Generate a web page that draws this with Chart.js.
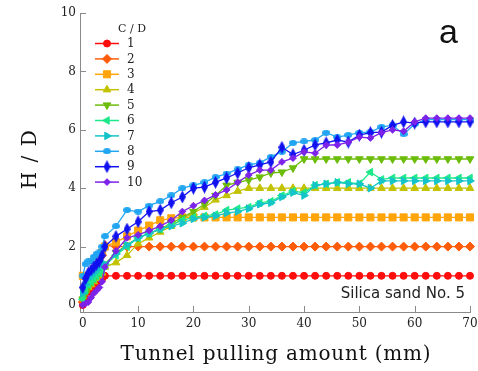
<!DOCTYPE html>
<html><head><meta charset="utf-8">
<script src="https://cdn.jsdelivr.net/npm/chart.js@4/dist/chart.umd.min.js"></script>
<style>html,body{margin:0;padding:0;background:#fff}#wrap{width:478px;height:371px}</style>
</head><body><div id="wrap"><canvas id="c" width="478" height="371"></canvas></div>
<script>
// ---- data ----
const pulling = [0,0.5,1,1.5,2,2.5,3,3.5,4,6,8,10,12,14,16,18,20,22,24,26,28,30,32,34,36,38,40,42,44,46,48,50,52,54,56,58,60,62,64,66,68,70];
const hd1 = [0,0.2,0.45,0.55,0.65,0.75,0.8,0.9, 1,1,1,1,1,1,1,1,1,1,1,1,1,1,1,1,1,1,1,1,1,1,1,1,1,1,1,1,1,1,1,1,1,1];
const hd2 = [0.1,0.6,0.8,1.0,1.1,1.3,1.4,1.7, 2.05,2,2,2,2,2,2,2,2,2,2,2,2,2,2,2,2,2,2,2,2,2,2,2,2,2,2,2,2,2,2,2,2,2];
const hd3 = [1.0,0.6,0.7,0.9,1.1,1.3,1.5,1.8, 2.0,2.15,2.35,2.55,2.72,2.9,2.97,3.0,3,3,3,3,3,3,3,3,3,3,3,3,3,3,3,3,3,3,3,3,3,3,3,3,3,3];
const hd4 = [0.3,0.5,0.6,0.7,0.8,0.9,1.0,1.1, 1.3,1.45,1.7,2.1,2.3,2.5,2.7,2.95,3.15,3.35,3.6,3.75,3.9,4.0,4,4,4,4,4,4,4,4,4,4,4,4,4,4,4,4,4,4,4,4];
const hd5 = [0.2,0.4,0.6,0.8,0.9,1.0,1.1,1.2, 1.4,1.8,2.05,2.3,2.45,2.6,2.8,3.0,3.2,3.45,3.75,4.1,4.2,4.28,4.38,4.52,4.55,4.69,5,5,5,5,5,5,5,5,5,5,5,5,5,5,5,5];
const hd6 = [0.2,0.5,0.7,0.8,0.9,1.0,1.1,1.2, 1.35,1.7,2.0,2.3,2.45,2.6,2.75,2.9,3.0,3.05,3.1,3.25,3.3,3.35,3.5,3.55,3.75,3.9,3.85,4.1,4.15,4.2,4.2,4.15,4.55,4.3,4.35,4.35,4.35,4.35,4.35,4.35,4.35,4.35];
const hd7 = [0.4,0.7,0.9,1.0,1.1,1.2,1.3,1.35, 1.4,1.75,2.05,2.3,2.45,2.6,2.7,2.8,2.95,3.0,3.05,3.15,3.2,3.3,3.45,3.5,3.7,3.85,3.75,4.1,4.15,4.2,4.15,4.15,4.0,4.25,4.25,4.25,4.25,4.25,4.25,4.25,4.25,4.25];
const hd8 = [1.0,1.4,1.5,1.5,1.65,1.75,1.8,2.0, 2.35,2.7,3.25,3.2,3.4,3.55,3.75,4.0,4.1,4.2,4.38,4.5,4.65,4.8,4.87,5.07,5.25,5.55,5.6,5.65,5.9,5.75,5.82,5.9,5.92,6.1,6.15,5.85,6.2,6.35,6.35,6.35,6.35,6.35];
const hd9 = [0.6,0.9,1.1,1.2,1.3,1.4,1.5,1.7, 2.0,2.35,2.6,2.85,3.2,3.25,3.5,3.7,4.0,4.04,4.2,4.35,4.52,4.7,4.8,4.9,5.4,5.15,5.3,5.48,5.55,5.65,5.58,5.82,5.9,5.92,6.15,6.27,6.23,6.27,6.27,6.27,6.27,6.27];
const hd10 = [0,0.05,0.1,0.25,0.4,0.5,0.6,0.8, 1.3,1.85,2.3,2.4,2.55,2.7,2.9,3.2,3.4,3.58,3.77,3.94,4.2,4.45,4.62,4.62,4.9,5.03,5.24,5.2,5.48,5.48,5.58,5.75,5.72,5.9,6.0,5.95,6.27,6.4,6.4,6.4,6.4,6.4];
const seriesLabels = ['1','2','3','4','5','6','7','8','9','10'];
const xTicks = [0,10,20,30,40,50,60,70];
const yTicks = [0,2,4,6,8,10];
const xTitle = 'Tunnel pulling amount (mm)';
const yTitle = 'H / D';
const legendTitle = 'C / D';
const panelLabel = 'a';
const noteText = 'Silica sand No. 5';

// ---- styles ----
function tallDiamond(color, w, h){
  const c = document.createElement('canvas'); c.width = w; c.height = h;
  const g = c.getContext('2d'); g.fillStyle = color;
  g.beginPath(); g.moveTo(w/2,0); g.lineTo(w,h/2); g.lineTo(w/2,h); g.lineTo(0,h/2); g.closePath(); g.fill();
  return c;
}
function ellipseImg(color, w, h){
  const c = document.createElement('canvas'); c.width = w; c.height = h;
  const g = c.getContext('2d'); g.fillStyle = color;
  g.beginPath(); g.ellipse(w/2,h/2,w/2,h/2,0,0,Math.PI*2); g.fill();
  return c;
}
const colors = ['#ff0d0d','#ff5c0a','#ffa50a','#c2c200','#6cbc0a','#1ee88a','#14c4c8','#22a6f2','#1010f0','#7d22e8'];
const styles = [
  {ps:'circle', r:3.5, rot:0},
  {ps:'rectRot', r:4.5, rot:0},
  {ps:'rect', r:5.0, rot:0},
  {ps:'triangle', r:4.4, rot:0},
  {ps:'triangle', r:4.4, rot:180},
  {ps:'triangle', r:4.4, rot:-90},
  {ps:'triangle', r:4.4, rot:90},
  {ps:ellipseImg(colors[7],8,6), r:3, rot:0},
  {ps:tallDiamond(colors[8],7,13), r:4, rot:0},
  {ps:'rectRot', r:3.4, rot:0}
];
const allY = [hd1,hd2,hd3,hd4,hd5,hd6,hd7,hd8,hd9,hd10];

const datasets = allY.map((arr,i)=>({
  label: seriesLabels[i],
  data: arr.map((v,j)=>({x:pulling[j], y:v})),
  borderColor: colors[i],
  backgroundColor: colors[i],
  borderWidth: 1.3,
  pointStyle: styles[i].ps,
  pointRadius: styles[i].r,
  pointRotation: styles[i].rot,
  pointBorderWidth: 1,
  pointBorderColor: colors[i],
  pointBackgroundColor: colors[i],
  tension: 0,
  clip: false,
  order: 10 - i
}));

const axisColor = '#8a8a8a';
const tickPlugin = {
  id: 'inTicks',
  beforeDatasetsDraw(chart){
    const ctx = chart.ctx, xs = chart.scales.x, ys = chart.scales.y, a = chart.chartArea;
    ctx.save();
    ctx.strokeStyle = axisColor; ctx.lineWidth = 1;
    ctx.beginPath();
    xTicks.forEach(v=>{ const px = Math.round(xs.getPixelForValue(v))+0.5; ctx.moveTo(px, a.bottom); ctx.lineTo(px, a.bottom-6); });
    yTicks.forEach(v=>{ const py = Math.round(ys.getPixelForValue(v))+0.5; ctx.moveTo(a.left, py); ctx.lineTo(a.left+6, py); });
    ctx.stroke();
    ctx.restore();
  },
  afterDraw(chart){
    const ctx = chart.ctx, a = chart.chartArea;
    ctx.save();
    // axis titles
    ctx.fillStyle = '#111';
    ctx.font = '20px "DejaVu Serif"';
    ctx.letterSpacing = '0.8px';
    ctx.textAlign = 'center'; ctx.textBaseline = 'alphabetic';
    ctx.fillText(xTitle, 276, 360);
    ctx.save();
    ctx.translate(36, 159); ctx.rotate(-Math.PI/2);
    ctx.letterSpacing = '1.5px';
    ctx.fillText(yTitle, 0, 0);
    ctx.restore();
    ctx.letterSpacing = '0px';
    // legend
    ctx.fillStyle = '#222';
    ctx.textAlign = 'center'; ctx.textBaseline = 'middle';
    ctx.font = '11px "DejaVu Serif"';
    ctx.fillText(legendTitle, 132, 29);
    chart.data.datasets.forEach((ds,i)=>{
      const y = 43.5 + i*15.4;
      ctx.strokeStyle = ds.borderColor; ctx.lineWidth = 1.5;
      ctx.beginPath(); ctx.moveTo(95,y); ctx.lineTo(119,y); ctx.stroke();
      ctx.fillStyle = ds.backgroundColor; ctx.strokeStyle = ds.borderColor; ctx.lineWidth = 1;
      Chart.helpers.drawPoint(ctx, {pointStyle: ds.pointStyle, radius: ds.pointRadius, rotation: ds.pointRotation||0, borderWidth: 1}, 107, y);
      ctx.fillStyle = '#222'; ctx.textAlign = 'left'; ctx.font = '12px "DejaVu Serif"';
      ctx.fillText(ds.label, 127, y+0.5);
    });
    // panel label and note
    ctx.fillStyle = '#111';
    ctx.textAlign = 'center'; ctx.textBaseline = 'alphabetic';
    ctx.font = '34px "Liberation Sans"';
    ctx.fillText(panelLabel, 448.5, 43);
    ctx.textAlign = 'right';
    ctx.font = '15px "DejaVu Sans"';
    ctx.fillStyle = '#222';
    ctx.fillText(noteText, 465, 298);
    ctx.restore();
  }
};

new Chart(document.getElementById('c'), {
  type: 'line',
  data: { datasets },
  options: {
    responsive: false,
    animation: false,
    devicePixelRatio: 1,
    layout: { padding: { top: 13, right: 4, left: 0, bottom: 0 } },
    plugins: { legend: { display: false }, tooltip: { enabled: false } },
    scales: {
      x: {
        type: 'linear', min: -0.5, max: 70,
        afterBuildTicks: s => { s.ticks = xTicks.map(v=>({value:v})); },
        afterFit: s => { s.height = 59; s.paddingRight = 8; },
        ticks: { font: { family: 'DejaVu Serif', size: 12 }, color: '#222', padding: 5, maxRotation: 0, autoSkip: false },
        grid: { drawOnChartArea: false, drawTicks: false },
        border: { display: true, color: axisColor, width: 1 }
      },
      y: {
        type: 'linear', min: -0.24, max: 10,
        afterBuildTicks: s => { s.ticks = yTicks.map(v=>({value:v})); },
        afterFit: s => { s.width = 80; },
        ticks: { font: { family: 'DejaVu Serif', size: 12 }, color: '#222', padding: 4 },
        grid: { drawOnChartArea: false, drawTicks: false },
        border: { display: true, color: axisColor, width: 1 }
      }
    }
  },
  plugins: [tickPlugin]
});
</script></body></html>
